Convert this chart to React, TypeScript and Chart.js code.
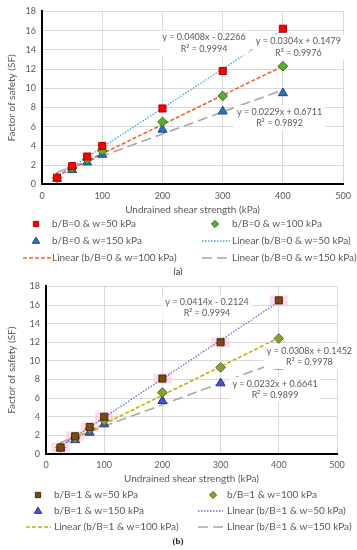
import React, { useEffect, useRef } from "react";
import { Chart, registerables } from "chart.js";

Chart.register(...registerables);

const FONT = "Lato, 'Liberation Sans', sans-serif";
const TEXT_GRAY = "#595959";
const GRID = "#D9D9D9";

// ---------- data ----------
const shearStrength = [25, 50, 75, 100, 200, 300, 400];
const trendRange = [25, 400];
const xTickStep = 100;
const yTickStep = 2;
const xMax = 500;
const yMax = 18;

const fsA_w50 = [0.7, 1.9, 2.9, 4.0, 7.9, 11.8, 16.2];
const fsA_w100 = [0.7, 1.7, 2.6, 3.5, 6.5, 9.2, 12.3];
const fsA_w150 = [0.6, 1.5, 2.3, 3.1, 5.7, 7.6, 9.5];
const trendA_w50 = [0.79, 16.09];
const trendA_w100 = [0.91, 12.31];
const trendA_w150 = [1.24, 9.83];

const fsB_w50 = [0.7, 1.9, 2.9, 4.0, 8.1, 12.0, 16.5];
const fsB_w100 = [0.7, 1.7, 2.7, 3.6, 6.6, 9.3, 12.4];
const fsB_w150 = [0.6, 1.5, 2.3, 3.2, 5.7, 7.6, 9.4];
const trendB_w50 = [0.82, 16.35];
const trendB_w100 = [0.92, 12.47];
const trendB_w150 = [1.24, 9.94];

const namesA = ["b/B=0 & w=50 kPa", "b/B=0 & w=100 kPa", "b/B=0 & w=150 kPa"];
const namesB = ["b/B=1 & w=50 kPa", "b/B=1 & w=100 kPa", "b/B=1 & w=150 kPa"];

const equationsA = [
  ["y = 0.0408x - 0.2266", "R² = 0.9994"],
  ["y = 0.0304x + 0.1479", "R² = 0.9976"],
  ["y = 0.0229x + 0.6711", "R² = 0.9892"],
];
const equationsB = [
  ["y = 0.0414x - 0.2124", "R² = 0.9994"],
  ["y = 0.0308x + 0.1452", "R² = 0.9978"],
  ["y = 0.0232x + 0.6641", "R² = 0.9899"],
];

const xTitle = "Undrained shear strength (kPa)";
const yTitle = "Factor of safety (SF)";

// ---------- styles / layout ----------
const specA = {
  names: namesA,
  values: [fsA_w50, fsA_w100, fsA_w150],
  trends: [trendA_w50, trendA_w100, trendA_w150],
  equations: equationsA,
  eqPos: [
    { x: 269, y: 14.7 },
    { x: 425.7, y: 14.28 },
    { x: 394.4, y: 6.96 },
  ],
  points: [
    { style: "rect", fill: "#FF0000", border: "#B00000", radius: 5 },
    { style: "rectRot", fill: "#5AAE32", border: "#2E6A18", radius: 4.8 },
    { style: "triangle", fill: "#2E72C0", border: "#1C4A80", radius: 5.2 },
  ],
  lines: [
    { color: "#3BA8D8", dash: [1.5, 1.5], width: 1.3 },
    { color: "#F2642A", dash: [4, 2], width: 1.6 },
    { color: "#A6A6A6", dash: [10, 5], width: 1.6 },
  ],
  height: 275,
  yAxisWidth: 42,
  xAxisHeight: 34,
  padRight: 12,
  padTop: 10,
  padBottom: 56.6,
  legend: {
    rows: [224, 241, 258],
    markerX: [36, 215],
    textX: [52, 232],
    lineX: [
      [23, 51],
      [202, 230],
    ],
  },
  caption: "(a)",
  captionY: 272,
  captionFont: `9px ${FONT}`,
};

const specB = {
  names: namesB,
  values: [fsB_w50, fsB_w100, fsB_w150],
  trends: [trendB_w50, trendB_w100, trendB_w150],
  equations: equationsB,
  eqPos: [
    { x: 276.6, y: 15.75 },
    { x: 452.7, y: 10.45 },
    { x: 393.5, y: 6.94 },
  ],
  points: [
    { style: "rect", fill: "#7A4A14", border: "#4A2C08", radius: 5, glow: true },
    { style: "rectRot", fill: "#8AA03A", border: "#56691C", radius: 4.8 },
    { style: "triangle", fill: "#4654C8", border: "#2A3590", radius: 5.2 },
  ],
  lines: [
    { color: "#6A6AD8", dash: [1.5, 1.5], width: 1.3 },
    { color: "#C8B000", dash: [4, 2], width: 1.6 },
    { color: "#A6A6A6", dash: [10, 5], width: 1.6 },
  ],
  height: 275,
  yAxisWidth: 46,
  xAxisHeight: 34,
  padRight: 20,
  padTop: 9,
  padBottom: 62,
  legend: {
    rows: [220, 236, 252],
    markerX: [38, 213],
    textX: [54, 227],
    lineX: [
      [26, 51],
      [198, 223],
    ],
  },
  caption: "(b)",
  captionY: 267,
  captionFont: `bold 9px 'Liberation Serif', serif`,
};

function drawMarker(ctx, style, x, y, r, fill, border) {
  ctx.save();
  ctx.fillStyle = fill;
  ctx.strokeStyle = border;
  ctx.lineWidth = 1;
  ctx.setLineDash([]);
  ctx.beginPath();
  if (style === "rect") {
    const s = r * Math.SQRT1_2;
    ctx.rect(x - s, y - s, 2 * s, 2 * s);
  } else if (style === "rectRot") {
    ctx.moveTo(x, y - r);
    ctx.lineTo(x + r, y);
    ctx.lineTo(x, y + r);
    ctx.lineTo(x - r, y);
    ctx.closePath();
  } else {
    ctx.moveTo(x, y - r);
    ctx.lineTo(x + r * 0.95, y + r * 0.6);
    ctx.lineTo(x - r * 0.95, y + r * 0.6);
    ctx.closePath();
  }
  ctx.fill();
  ctx.stroke();
  ctx.restore();
}

function buildConfig(spec) {
  const pointSets = spec.values.map((vals, i) => {
    const p = spec.points[i];
    return {
      label: spec.names[i],
      kind: "point",
      data: shearStrength.map((x, j) => ({ x, y: vals[j] })),
      showLine: false,
      pointStyle: p.style,
      pointRadius: p.radius,
      pointBackgroundColor: p.fill,
      pointBorderColor: p.border,
      pointBorderWidth: 1,
      backgroundColor: p.fill,
      borderColor: p.border,
      order: 0,
    };
  });
  const lineSets = spec.trends.map((t, i) => {
    const l = spec.lines[i];
    return {
      label: `Linear (${spec.names[i]})`,
      kind: "line",
      data: trendRange.map((x, j) => ({ x, y: t[j] })),
      showLine: true,
      pointRadius: 0,
      borderColor: l.color,
      borderWidth: l.width,
      borderDash: l.dash,
      backgroundColor: l.color,
      fill: false,
      order: 1,
    };
  });

  const glowPlugin = {
    id: "glow",
    beforeDatasetsDraw(chart) {
      const { ctx } = chart;
      spec.points.forEach((p, i) => {
        if (!p.glow) return;
        const meta = chart.getDatasetMeta(i);
        ctx.save();
        ctx.fillStyle = "rgba(255, 190, 225, 0.55)";
        meta.data.forEach((el) => {
          ctx.fillRect(el.x - 9, el.y - 5, 18, 10);
        });
        ctx.restore();
      });
    },
  };

  const equationPlugin = {
    id: "equations",
    afterDatasetsDraw(chart) {
      const { ctx } = chart;
      const xs = chart.scales.x;
      const ys = chart.scales.y;
      ctx.save();
      ctx.font = `9px ${FONT}`;
      ctx.textAlign = "center";
      ctx.textBaseline = "middle";
      spec.equations.forEach((lines, i) => {
        const pos = spec.eqPos[i];
        const cx = xs.getPixelForValue(pos.x);
        const cy = ys.getPixelForValue(pos.y);
        const lh = 11.5;
        const w = Math.max(...lines.map((s) => ctx.measureText(s).width)) + 6;
        const h = lh * lines.length + 2;
        ctx.fillStyle = "#FFFFFF";
        ctx.fillRect(cx - w / 2, cy - h / 2, w, h);
        ctx.fillStyle = TEXT_GRAY;
        lines.forEach((s, k) => {
          ctx.fillText(s, cx, cy - (lh * (lines.length - 1)) / 2 + k * lh);
        });
      });
      ctx.restore();
    },
  };

  const legendPlugin = {
    id: "customLegend",
    afterDraw(chart) {
      const { ctx } = chart;
      const L = spec.legend;
      ctx.save();
      ctx.font = `10px ${FONT}`;
      ctx.textBaseline = "middle";
      ctx.textAlign = "left";
      chart.data.datasets.forEach((ds, i) => {
        const row = Math.floor(i / 2);
        const col = i % 2;
        const y = L.rows[row];
        if (ds.kind === "point") {
          const p = spec.points[i];
          drawMarker(ctx, p.style, L.markerX[col], y, p.radius * 0.75, p.fill, p.border);
        } else {
          ctx.save();
          ctx.strokeStyle = ds.borderColor;
          ctx.lineWidth = ds.borderWidth;
          ctx.setLineDash(ds.borderDash);
          ctx.beginPath();
          ctx.moveTo(L.lineX[col][0], y);
          ctx.lineTo(L.lineX[col][1], y);
          ctx.stroke();
          ctx.restore();
        }
        ctx.fillStyle = TEXT_GRAY;
        ctx.fillText(ds.label, L.textX[col], y);
      });
      ctx.font = spec.captionFont;
      ctx.fillStyle = "#222222";
      ctx.textAlign = "center";
      ctx.fillText(spec.caption, 178, spec.captionY);
      ctx.restore();
    },
  };

  return {
    type: "scatter",
    data: { datasets: [...pointSets, ...lineSets] },
    options: {
      responsive: false,
      animation: false,
      devicePixelRatio: 1,
      layout: {
        padding: { left: 0, right: spec.padRight, top: spec.padTop, bottom: spec.padBottom },
      },
      plugins: { legend: { display: false }, tooltip: { enabled: false } },
      scales: {
        x: {
          type: "linear",
          min: 0,
          max: xMax,
          ticks: { stepSize: xTickStep, color: TEXT_GRAY, font: { family: FONT, size: 9 }, padding: 6 },
          grid: { color: GRID, drawTicks: false },
          border: { color: "#000000", width: 2 },
          title: {
            display: true,
            text: xTitle,
            color: TEXT_GRAY,
            font: { family: FONT, size: 10 },
            padding: { top: 0, bottom: 3 },
          },
          afterFit: (s) => {
            s.height = spec.xAxisHeight;
          },
        },
        y: {
          type: "linear",
          min: 0,
          max: yMax,
          ticks: { stepSize: yTickStep, color: TEXT_GRAY, font: { family: FONT, size: 9 }, padding: 6 },
          grid: { color: GRID, drawTicks: false },
          border: { color: "#000000", width: 2 },
          title: {
            display: true,
            text: yTitle,
            color: TEXT_GRAY,
            font: { family: FONT, size: 10 },
            padding: { top: 6, bottom: 0 },
          },
          afterFit: (s) => {
            s.width = spec.yAxisWidth;
          },
        },
      },
    },
    plugins: [glowPlugin, equationPlugin, legendPlugin],
  };
}

function ChartPanel({ spec }) {
  const ref = useRef(null);
  useEffect(() => {
    const chart = new Chart(ref.current, buildConfig(spec));
    return () => chart.destroy();
  }, [spec]);
  return (
    <canvas
      ref={ref}
      width={357}
      height={spec.height}
      style={{ display: "block", width: 357, height: spec.height }}
    />
  );
}

export default function App() {
  useEffect(() => {
    document.body.style.margin = "0";
    document.body.style.background = "#FFFFFF";
  }, []);
  return (
    <div style={{ width: 357, height: 550, background: "#FFFFFF" }}>
      <ChartPanel spec={specA} />
      <ChartPanel spec={specB} />
    </div>
  );
}
